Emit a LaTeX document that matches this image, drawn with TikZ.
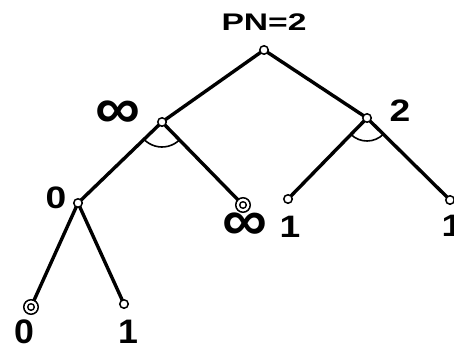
\documentclass[tikz,border=0pt]{standalone}
\usepackage{fontspec}
\setmainfont{Liberation Sans}
\begin{document}
\begin{tikzpicture}[x=1pt,y=1pt,
  vtx/.style={circle,draw,fill=white,line width=1.5pt,inner sep=0pt,minimum size=8.5pt},
  goal/.style={vtx,minimum size=14.5pt,path picture={\draw[line width=1.4pt] (path picture bounding box.center) circle (3.3pt);}},
  edge/.style={line width=3.4pt},
  andarc/.style={line width=1.6pt},
  lab/.style={font=\bfseries\fontsize{31}{31}\selectfont,inner sep=0pt,xscale=1.2},
  blab/.style={font=\bfseries\fontsize{34}{34}\selectfont,inner sep=0pt,xscale=1.05},
  inf/.style={font=\bfseries\fontsize{28}{28}\selectfont,inner sep=0pt,xscale=2.25,yscale=2.1},
  title/.style={font=\bfseries\fontsize{24}{24}\selectfont,inner sep=0pt,xscale=1.4}
]
\useasboundingbox (0,0) rectangle (454,349);
% vertices
\coordinate (R) at (264,299);
\coordinate (A) at (162,227);
\coordinate (B) at (367,231);
\coordinate (C) at (78,146);
\coordinate (D) at (243,144);
\coordinate (E) at (288,150);
\coordinate (F) at (450,149);
\coordinate (G) at (31,42);
\coordinate (H) at (124,45);
% edges
\draw[edge] (R) -- (A);
\draw[edge] (R) -- (B);
\draw[edge] (A) -- (C);
\draw[edge] (A) -- (D);
\draw[edge] (B) -- (E);
\draw[edge] (B) -- (F);
\draw[edge] (C) -- (G);
\draw[edge] (C) -- (H);
% and-arcs
\draw[andarc] (A) ++(224:25) arc[start angle=224,end angle=314.3,radius=25];
\draw[andarc] (B) ++(225.7:23) arc[start angle=225.7,end angle=315.4,radius=23];
% node markers
\node[vtx] (r) at (R) {};
\node[vtx] (a) at (A) {};
\node[vtx] (b) at (B) {};
\node[vtx] (c) at (C) {};
\node[goal] (d) at (D) {};
\node[vtx] (e) at (E) {};
\node[vtx] (f) at (F) {};
\node[goal] (g) at (G) {};
\node[vtx] (h) at (H) {};
% labels
\node[title] (tr) at (264,327) {PN=2};
\node[inf] (ta) at (118,234) {∞};
\node[lab] (tb) at (400,238) {2};
\node[lab] (tc) at (56,151.5) {0};
\node[inf] (td) at (245,122.5) {∞};
\node[lab] (te) at (290,122) {1};
\node[lab] (tf) at (452,123) {1};
\node[blab] (tg) at (24,17.5) {0};
\node[blab] (th) at (128,17.5) {1};
\end{tikzpicture}
\end{document}
